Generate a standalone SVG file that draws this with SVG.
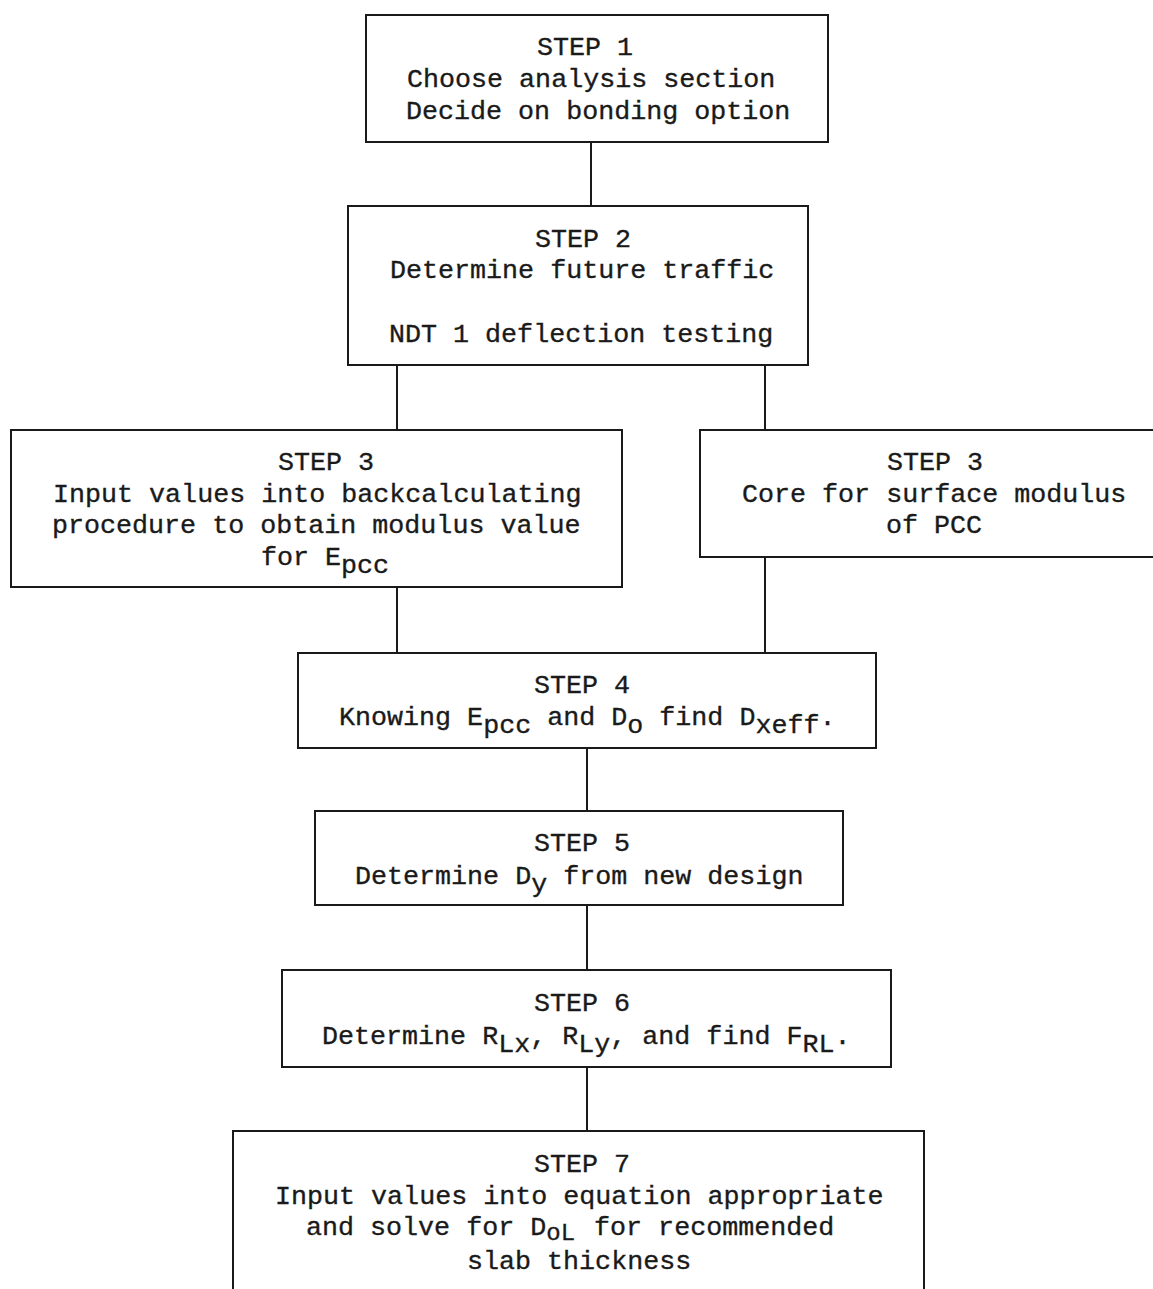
<svg xmlns="http://www.w3.org/2000/svg" width="1153" height="1289" viewBox="0 0 1153 1289">
<style>
  .box { fill: #ffffff; stroke: #1a1a1a; stroke-width: 2; }
  .conn { stroke: #1a1a1a; stroke-width: 2; fill: none; }
  text { font-family: "Liberation Mono", "Courier New", monospace; font-size: 26.7px; fill: #1a1a1a; stroke: #1a1a1a; stroke-width: 0.35; }
  .sub { font-size: 24px; }
</style>
<rect x="0" y="0" width="1153" height="1289" fill="#ffffff"/>
<g id="connectors">
  <line class="conn" x1="591" y1="142" x2="591" y2="206"/>
  <line class="conn" x1="397" y1="365" x2="397" y2="430"/>
  <line class="conn" x1="765" y1="365" x2="765" y2="430"/>
  <line class="conn" x1="397" y1="587" x2="397" y2="653"/>
  <line class="conn" x1="765" y1="557" x2="765" y2="653"/>
  <line class="conn" x1="587" y1="748" x2="587" y2="811"/>
  <line class="conn" x1="587" y1="905" x2="587" y2="970"/>
  <line class="conn" x1="587" y1="1067" x2="587" y2="1131"/>
</g>
<g id="step1">
  <rect class="box" x="366" y="15" width="462" height="127"/>
  <text x="537" y="55">STEP 1</text>
  <text x="407" y="87">Choose analysis section</text>
  <text x="406" y="119">Decide on bonding option</text>
</g>
<g id="step2">
  <rect class="box" x="348" y="206" width="460" height="159"/>
  <text x="535" y="247">STEP 2</text>
  <text x="390" y="278">Determine future traffic</text>
  <text x="389" y="342">NDT 1 deflection testing</text>
</g>
<g id="step3a">
  <rect class="box" x="11" y="430" width="611" height="157"/>
  <text x="278" y="470">STEP 3</text>
  <text x="53" y="502">Input values into backcalculating</text>
  <text x="52" y="533">procedure to obtain modulus value</text>
  <text x="261" y="565">for E<tspan dy="8">pcc</tspan></text>
</g>
<g id="step3b">
  <rect class="box" x="700" y="430" width="462" height="127"/>
  <text x="887" y="470">STEP 3</text>
  <text x="742" y="502">Core for surface modulus</text>
  <text x="886" y="533">of PCC</text>
</g>
<g id="step4">
  <rect class="box" x="298" y="653" width="578" height="95"/>
  <text x="534" y="693">STEP 4</text>
  <text x="339" y="725">Knowing E<tspan dy="8">pcc</tspan><tspan dy="-8"> and D</tspan><tspan dy="8">o</tspan><tspan dy="-8"> find D</tspan><tspan dy="8">xeff</tspan><tspan dy="-8">.</tspan></text>
</g>
<g id="step5">
  <rect class="box" x="315" y="811" width="528" height="94"/>
  <text x="534" y="851">STEP 5</text>
  <text x="355" y="884">Determine D<tspan dy="8">y</tspan><tspan dy="-8"> from new design</tspan></text>
</g>
<g id="step6">
  <rect class="box" x="282" y="970" width="609" height="97"/>
  <text x="534" y="1011">STEP 6</text>
  <text x="322" y="1044">Determine R<tspan dy="8">Lx</tspan><tspan dy="-8">, R</tspan><tspan dy="8">Ly</tspan><tspan dy="-8">, and find F</tspan><tspan dy="8">RL</tspan><tspan dy="-8">.</tspan></text>
</g>
<g id="step7">
  <rect class="box" x="233" y="1131" width="691" height="170"/>
  <text x="534" y="1172">STEP 7</text>
  <text x="275" y="1204">Input values into equation appropriate</text>
  <text x="306" y="1235">and solve for D<tspan class="sub" dy="5">oL</tspan><tspan dy="-5" dx="3"> for recommended</tspan></text>
  <text x="467" y="1269">slab thickness</text>
</g>
</svg>
